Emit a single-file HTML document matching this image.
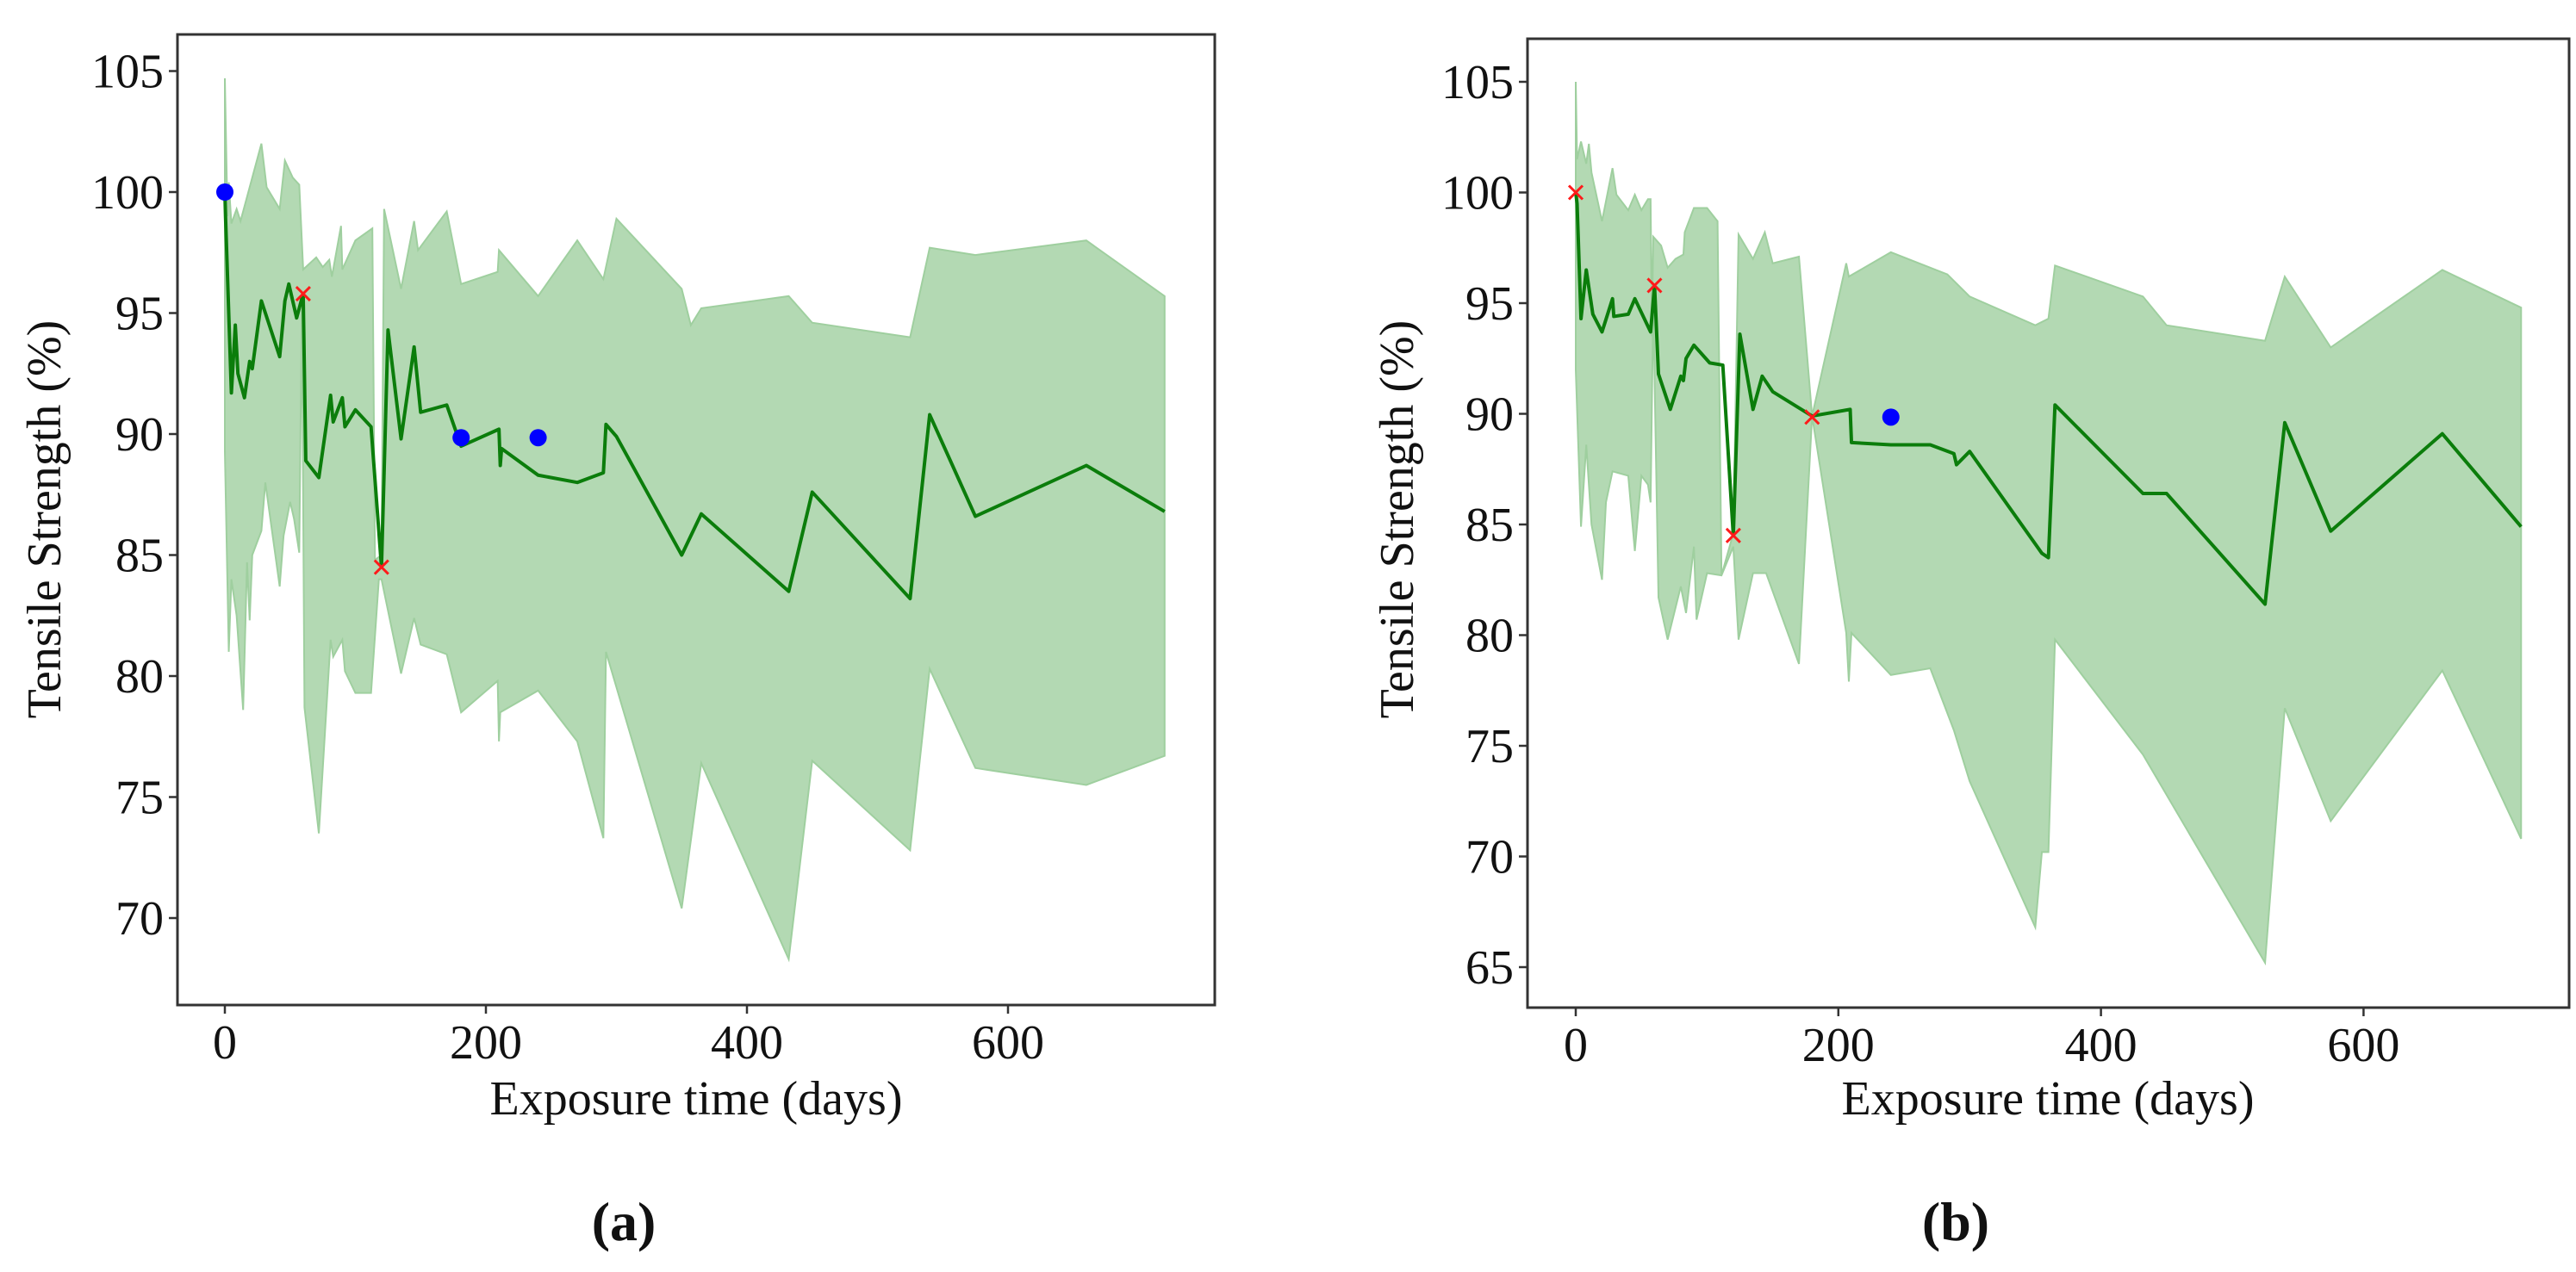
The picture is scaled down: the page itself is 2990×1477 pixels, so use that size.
<!DOCTYPE html>
<html><head><meta charset="utf-8"><style>
body{margin:0;background:#fff}
svg{display:block}
text{font-family:"Liberation Serif",serif;fill:#111}
</style></head><body>
<svg id="fig" width="2990" height="1477" viewBox="0 0 2990 1477" xmlns="http://www.w3.org/2000/svg"></svg>
<script>
// Panel (a) data
const aMeanDays=[0,0.5,5,8,10,15,19,21,28,42,46,49,55,60,62,72,81,83,90,92,100,112,120,125,135,145,150,170,181,210,211,212,240,270,290,292,300,350,365,432,450,525,540,575,660,720];
const aMeanVals=[100,99,91.7,94.5,92.5,91.5,93,92.7,95.5,93.2,95.5,96.2,94.8,95.8,88.9,88.2,91.6,90.5,91.5,90.3,91,90.3,84.5,94.3,89.8,93.6,90.9,91.2,89.5,90.2,88.7,89.4,88.3,88,88.4,90.4,89.9,85,86.7,83.5,87.6,83.2,90.8,86.6,88.7,86.8];
const aUpDays=[0,2,3,5,9,12,28,32,42,46,52,57,60,70,75,80,82,89,90,100,113,115,120,122,135,145,148,170,181,209,210,240,270,290,300,350,357,365,432,450,525,540,575,660,720];
const aUpVals=[104.7,99,100.4,98.7,99.3,98.8,102,100.2,99.3,101.3,100.6,100.3,96.8,97.3,96.9,97.2,96.5,98.6,96.8,98,98.5,84.8,85,99.3,96,98.8,97.6,99.2,96.2,96.7,97.6,95.7,98,96.4,98.9,96,94.5,95.2,95.7,94.6,94,97.7,97.4,98,95.7];
const aLoDays=[0,3,5,9,14,17,19,21,28,31,42,45,50,53,57,59,61,72,81,83,90,92,100,112,118,120,135,145,150,170,181,209,210,211,240,270,290,292,350,365,432,450,525,540,575,660,720];
const aLoVals=[89.3,81,84,82.5,78.6,84.7,82.3,85,86,88,83.7,85.8,87.2,86.5,85.1,95.5,78.7,73.5,81.5,80.8,81.5,80.2,79.3,79.3,84,84,80.1,82.4,81.3,80.9,78.5,79.8,77.3,78.5,79.4,77.3,73.3,81,70.4,76.4,68.3,76.5,72.8,80.3,76.2,75.5,76.7];
const aDotDays=[0,181,240], aDotVals=[100,89.85,89.85];
const aCrossDays=[60,120], aCrossVals=[95.8,84.5];
// Panel (b) data
const bMeanDays=[0,1,4,8,13,20,28,29,40,45,57,60,63,72,80,82,84,90,102,112,120,125,135,142,150,180,209,210,240,270,288,290,300,355,360,365,432,450,525,540,575,660,720];
const bMeanVals=[100,99.5,94.3,96.5,94.5,93.7,95.2,94.4,94.5,95.2,93.7,95.8,91.8,90.2,91.7,91.5,92.5,93.1,92.3,92.2,84.5,93.6,90.2,91.7,91,89.9,90.2,88.7,88.6,88.6,88.2,87.7,88.3,83.7,83.5,90.4,86.4,86.4,81.4,89.6,84.7,89.1,84.9];
const bUpDays=[0,1,4,8,10,12,20,25,28,31,40,45,50,55,57,58,59,65,70,76,82,83,90,100,108,111,120,124,135,144,150,170,180,206,208,240,283,300,350,360,365,432,450,525,540,575,660,720];
const bUpVals=[105,101.5,102.3,101.3,102.2,100.9,98.7,100.2,101.1,99.9,99.2,99.9,99.2,99.7,99.7,93.5,98,97.6,96.6,97,97.2,98.2,99.3,99.3,98.7,82.7,84.6,98.1,97,98.2,96.8,97.1,89.9,96.8,96.2,97.3,96.3,95.3,94,94.3,96.7,95.3,94,93.3,96.2,93,96.5,94.8];
const bLoDays=[0,4,8,12,20,23,28,40,45,50,55,57,59,63,70,80,84,90,92,100,111,120,124,135,145,170,180,206,208,210,240,270,288,300,350,355,360,365,432,525,540,575,660,720];
const bLoVals=[92,84.9,88.6,85,82.5,86,87.4,87.2,83.8,87.2,86.8,86,95,81.7,79.8,82.2,81,84,80.7,82.8,82.7,84,79.8,82.8,82.8,78.7,89.9,80.1,77.9,80.1,78.2,78.5,75.7,73.4,66.8,70.2,70.2,79.8,74.6,65.2,76.7,71.6,78.4,70.8];
const bDotDays=[240], bDotVals=[89.85];
const bCrossDays=[0,60,120,180], bCrossVals=[100,95.8,84.5,89.85];
const aYTicks=[70,75,80,85,90,95,100,105];
const bYTicks=[65,70,75,80,85,90,95,100,105];
const xTicks=[0,200,400,600];

const NS="http://www.w3.org/2000/svg";
const fig=document.getElementById('fig');
function mk(tag,attrs,parent){const e=document.createElementNS(NS,tag);for(const k in attrs)e.setAttribute(k,attrs[k]);(parent||fig).appendChild(e);return e;}

function panel(P){
  const g=mk('g',{});
  
  
  const X=d=>P.x0+d*P.kx, Y=v=>P.y100+(100-v)*P.ky;
  let pts=P.upD.map((d,i)=>X(d)+','+Y(P.upV[i]));
  for(let i=P.loD.length-1;i>=0;i--)pts.push(X(P.loD[i])+','+Y(P.loV[i]));
  const band=mk('polygon',{points:pts.join(' '),fill:'#b3d9b3',stroke:'#9fcf9f','stroke-width':2},g);
  
  
  const line=mk('polyline',{points:P.mD.map((d,i)=>X(d)+','+Y(P.mV[i])).join(' '),fill:'none',stroke:'#0b7d0b','stroke-width':4,'stroke-linejoin':'round'},g);
  
  
  P.dD.forEach((d,i)=>{const c=mk('circle',{cx:X(d),cy:Y(P.dV[i]),r:10,fill:'#0000ff'},g);
    
    });
  P.cD.forEach((d,i)=>{const cx=X(d),cy=Y(P.cV[i]),s=8;
    const p=mk('path',{d:`M${cx-s},${cy-s}L${cx+s},${cy+s}M${cx-s},${cy+s}L${cx+s},${cy-s}`,stroke:'#ff1a1a','stroke-width':3},g);
    
    });
  const fr=mk('rect',{x:P.L,y:P.T,width:P.R-P.L,height:P.B-P.T,fill:'none',stroke:'#333','stroke-width':3},g);
  
  
  P.yt.forEach(v=>{const y=Y(v);mk('line',{x1:P.L-10,x2:P.L,y1:y,y2:y,stroke:'#333','stroke-width':2.5},g);
    const t=mk('text',{x:P.L-16,y:y+19,'text-anchor':'end','font-size':56},g);t.textContent=v;
    
    });
  xTicks.forEach(v=>{const x=X(v);mk('line',{x1:x,x2:x,y1:P.B,y2:P.B+10,stroke:'#333','stroke-width':2.5},g);
    const t=mk('text',{x:x,y:P.B+62,'text-anchor':'middle','font-size':56},g);t.textContent=v;
    
    });
  const xl=mk('text',{x:P.xlx,y:1294,'text-anchor':'middle','font-size':56},g);xl.textContent='Exposure time (days)';
  
  
  const yl=mk('text',{x:0,y:0,'text-anchor':'middle','font-size':56,transform:`translate(${P.ylx},603) rotate(-90)`},g);yl.textContent='Tensile Strength (%)';
  
  
  const cap=mk('text',{x:P.capx,y:1440,'text-anchor':'middle','font-size':64,'font-weight':'bold'},g);cap.textContent='('+P.cap+')';
  
  
}
panel({name:'panel-a',L:206,R:1410,T:40,B:1167,x0:261,kx:1.515,y100:223,ky:28.1,
  mD:aMeanDays,mV:aMeanVals,upD:aUpDays,upV:aUpVals,loD:aLoDays,loV:aLoVals,dD:aDotDays,dV:aDotVals,cD:aCrossDays,cV:aCrossVals,
  yt:aYTicks,xlx:808,ylx:70,capx:724,cap:'a'});
panel({name:'panel-b',L:1773,R:2982,T:45,B:1170,x0:1829,kx:1.524,y100:223.5,ky:25.7,
  mD:bMeanDays,mV:bMeanVals,upD:bUpDays,upV:bUpVals,loD:bLoDays,loV:bLoVals,dD:bDotDays,dV:bDotVals,cD:bCrossDays,cV:bCrossVals,
  yt:bYTicks,xlx:2377,ylx:1640,capx:2270,cap:'b'});
</script>
</body></html>
